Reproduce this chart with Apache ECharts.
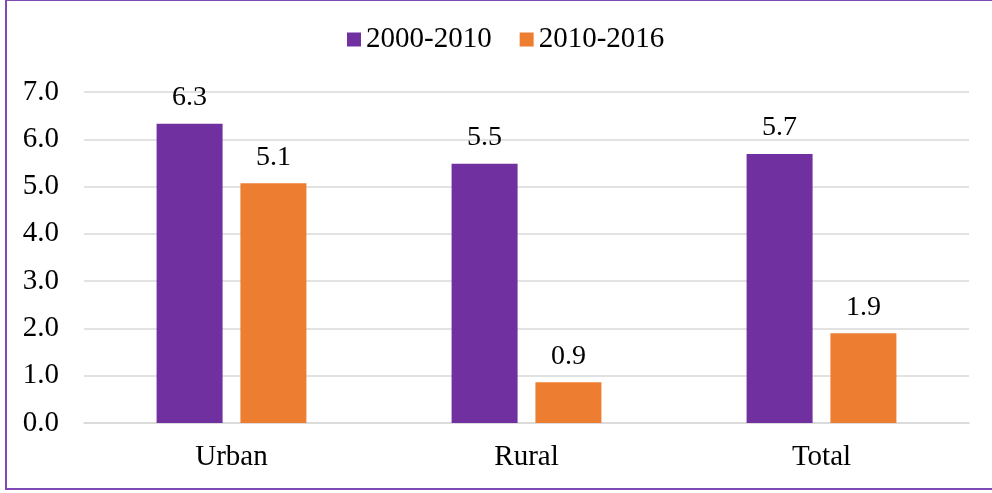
<!DOCTYPE html>
<html>
<head>
<meta charset="utf-8">
<script src="https://cdn.jsdelivr.net/npm/echarts@6/dist/echarts.min.js"></script>
<style>
    html, body { margin: 0; padding: 0; background: #fff; }
    #myChart { width: 992px; height: 493px; }
</style>
</head>
<body>
<div id="myChart"></div>
<script>
    // data
    const categories = ['Urban', 'Rural', 'Total']
    const seriesNames = ['2000-2010', '2010-2016']
    const values2000 = [6.33, 5.48, 5.69]
    const values2010 = [5.07, 0.86, 1.90]
    const yTicks = [0, 1, 2, 3, 4, 5, 6, 7]

    const font = "'Liberation Serif', 'Times New Roman', serif"
    const colors = ['#7030A0', '#ED7D31']

    let labelOption = {
        show: true,
        position: 'top',
        distance: 12,
        color: '#000',
        fontFamily: font,
        fontSize: 28,
        formatter: p => p.value.toFixed(1)
    }

    let myChart = echarts.init(document.getElementById('myChart'), null, {renderer: 'canvas'})
    myChart.setOption({
        animation: false,
        color: colors,
        textStyle: {fontFamily: font},
        graphic: [{
            type: 'rect',
            shape: {x: 6, y: 0, width: 1000, height: 489},
            style: {fill: 'none', stroke: '#7E4BB6', lineWidth: 2},
            silent: true
        }],
        legend: {
            data: seriesNames,
            left: 342,
            top: 20,
            itemWidth: 14,
            itemHeight: 14,
            itemGap: 28,
            icon: 'rect',
            textStyle: {color: '#000', fontSize: 29, fontFamily: font}
        },
        grid: {
            left: 84,
            right: 23,
            top: 92,
            bottom: 70,
            outerBoundsMode: 'none'
        },
        xAxis: {
            type: 'category',
            data: categories,
            axisTick: {show: false},
            axisLine: {lineStyle: {color: '#d9d9d9', width: 1.5}},
            axisLabel: {color: '#000', fontSize: 29, fontFamily: font, margin: 20}
        },
        yAxis: {
            type: 'value',
            min: yTicks[0],
            max: yTicks[yTicks.length - 1],
            interval: 1,
            axisLine: {show: false},
            axisTick: {show: false},
            splitLine: {lineStyle: {color: '#d9d9d9', width: 1.5}},
            axisLabel: {
                color: '#000', fontSize: 29, fontFamily: font, margin: 25,
                formatter: v => v.toFixed(1)
            }
        },
        series: [
            {
                name: seriesNames[0],
                type: 'bar',
                barWidth: 66,
                barGap: '27%',
                label: labelOption,
                data: values2000
            },
            {
                name: seriesNames[1],
                type: 'bar',
                barWidth: 66,
                barGap: '27%',
                label: labelOption,
                data: values2010
            }
        ]
    })
</script>
</body>
</html>
